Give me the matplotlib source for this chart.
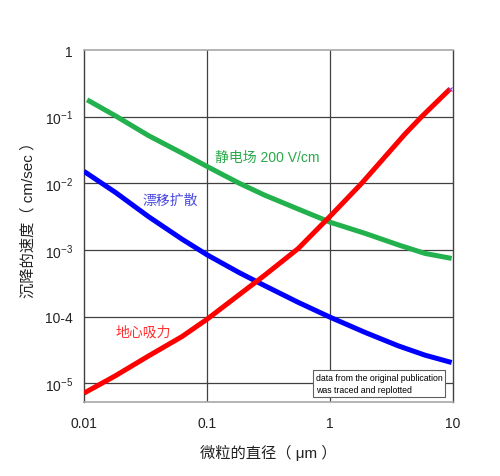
import numpy as np
import matplotlib
matplotlib.use("Agg")
import matplotlib.pyplot as plt

plt.rcParams['font.family'] = ['Liberation Sans', 'Noto Sans CJK SC', 'DejaVu Sans']
plt.rcParams['mathtext.fontset'] = 'custom'
plt.rcParams['mathtext.rm'] = 'Liberation Sans'
plt.rcParams['mathtext.it'] = 'Liberation Sans'

# 静电场 200 V/cm
green_x = [0.0106, 0.018, 0.0336, 0.0626, 0.1, 0.181, 0.296, 0.552, 1.01, 1.93, 3.59, 5.92, 9.75]
green_y = [0.179, 0.103, 0.0517, 0.0284, 0.0179, 0.0101, 0.0066, 0.0041, 0.00259, 0.00177,
           0.00119, 0.000885, 0.000745]

# 漂移扩散
blue_x = [0.01, 0.018, 0.0336, 0.0626, 0.1, 0.181, 0.296, 0.552, 1.01, 1.93, 3.59, 5.92, 9.75]
blue_y = [0.0151, 0.0073, 0.00314, 0.00145, 0.000845, 0.00046, 0.000289, 0.000163, 9.7e-5,
          5.77e-5, 3.63e-5, 2.63e-5, 2.04e-5]

# 地心吸力
red_x = [0.01, 0.018, 0.0336, 0.0626, 0.1, 0.181, 0.296, 0.552, 1.01, 1.81, 4.07, 5.56, 9.46]
red_y = [7.08e-6, 1.29e-5, 2.57e-5, 5.0e-5, 9.1e-5, 2.1e-4, 4.2e-4, 1.05e-3, 3.25e-3,
         0.01, 0.0548, 0.1, 0.26]

x_ticks = [0.01, 0.1, 1, 10]
x_labels = ['0.01', '0.1', '1', '10']
y_ticks = [1e-5, 1e-4, 1e-3, 1e-2, 1e-1, 1]
y_labels = ['$10^{-5}$', '10-4', '$10^{-3}$', '$10^{-2}$', '$10^{-1}$', '1']

fig = plt.figure(figsize=(5, 4.77), dpi=100)
ax = fig.add_axes([0.168, 0.155, 0.738, 0.738])

ax.set_xscale('log')
ax.set_yscale('log')
ax.set_xlim(0.01, 10)
ax.set_ylim(5.2e-6, 1)

# сітка
for xv in x_ticks[1:-1]:
    ax.axvline(xv, color='#404040', lw=0.9, zorder=1)
for yv in y_ticks[:-1]:
    ax.axhline(yv, color='#404040', lw=0.9, zorder=1)

ax.plot(green_x, green_y, color='#22b14c', lw=3.6, solid_capstyle='butt', zorder=3)
ax.plot(blue_x, blue_y, color='#0000ff', lw=3.6, solid_capstyle='butt', zorder=3)
ax.plot(red_x, red_y, color='#ff0000', lw=3.6, solid_capstyle='butt', zorder=3)
ax.plot(red_x[-1], red_y[-1], marker='x', color='#9040c0', ms=3, mew=0.8, zorder=4)

ax.text(0.116, 0.0247, '静电场 200 V/cm', color='#2aa84a', fontsize=10, va='center', ha='left')
ax.text(0.030, 0.0056, '漂移扩散', color='#4a4ae0', fontsize=10, va='center', ha='left')
ax.text(0.018, 5.9e-5, '地心吸力', color='#ff3030', fontsize=10, va='center', ha='left')

ax.text(0.628, 0.022, 'data from the original publication\nwas traced and replotted',
        transform=ax.transAxes, fontsize=6.3, va='bottom', ha='left', linespacing=1.5,
        bbox=dict(boxstyle='square,pad=0.3', fc='white', ec='#606060', lw=0.8), zorder=5)

ax.set_xticks(x_ticks)
ax.set_xticklabels(x_labels)
ax.set_yticks(y_ticks)
ax.set_yticklabels(y_labels)
ax.minorticks_off()
ax.tick_params(axis='both', length=0, labelsize=10, colors='#222222')
ax.tick_params(axis='x', pad=10)
ax.tick_params(axis='y', pad=8)

for s in ['left', 'right']:
    ax.spines[s].set_color('#404040')
    ax.spines[s].set_linewidth(1.0)
for s in ['top', 'bottom']:
    ax.spines[s].set_color('#a8a8a8')
    ax.spines[s].set_linewidth(1.2)

ax.set_xlabel('微粒的直径（ μm ）', fontsize=11, labelpad=10, color='#222222')
ax.set_ylabel('沉降的速度（ cm/sec ）', fontsize=11, labelpad=10, color='#222222')
ax.yaxis.set_label_coords(-0.13, 0.53)

fig.savefig('out.png', dpi=100)
